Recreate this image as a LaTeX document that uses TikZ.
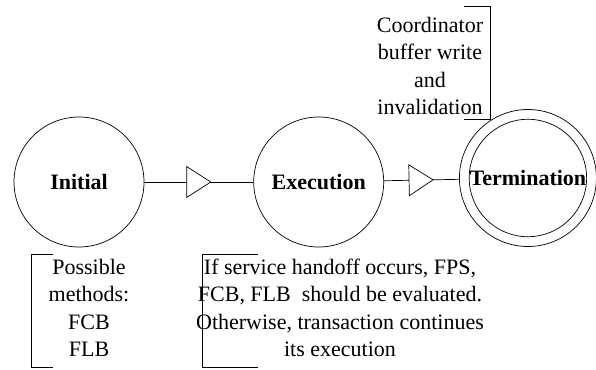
\documentclass[tikz,border=0pt]{standalone}
\usepackage{fontspec}
\setmainfont{Liberation Serif}
\usepackage{tikz}
\usetikzlibrary{arrows.meta, positioning, decorations.markings}

\begin{document}
\begin{tikzpicture}[
    x=1pt, y=-1pt,
    state/.style={circle, draw, line width=0.7pt, inner sep=0pt, minimum size=130pt, font=\bfseries\fontsize{22}{26}\selectfont},
    note/.style={align=center, inner sep=0pt, font=\fontsize{22}{27.5}\selectfont},
    line/.style={draw, line width=0.7pt},
    gate/.style={postaction={decorate, decoration={markings, mark=at position #1 with {\arrow{Triangle[length=25pt, width=32pt, fill=white, line width=0.7pt]}}}}}
]
\useasboundingbox (0,0) rectangle (596,369);

% Nodes
\node [state] (init) at (79,182) {Initial};
\node [state, right=109pt of init] (exec) {Execution};
\node [state, minimum size=137pt, right=75pt of exec, yshift=4pt] (term) {};
\node [state, minimum size=110pt] (termin) at (term) {Termination};

\node [note] (coord) at (430,66) {Coordinator\\buffer write\\and\\invalidation};
\node [note] (methods) at (89,308) {Possible\\methods:\\FCB\\FLB};
\node [note] (handoff) at (340,308) {If service handoff occurs, FPS,\\FCB, FLB~ should be evaluated.\\Otherwise, transaction continues\\its execution};

% Brackets
\path [line] (464,6) -- (490,6) -- (490,119) -- (464,119);
\path [line] (53,254) -- (31,254) -- (31,367) -- (53,367);
\path [line] (258,254) -- (202,254) -- (202,367) -- (258,367);

% Edges
\path [line, gate=0.615] (init) -- (exec);
\path [line, gate=0.662] (exec) -- (term);
\end{tikzpicture}
\end{document}
